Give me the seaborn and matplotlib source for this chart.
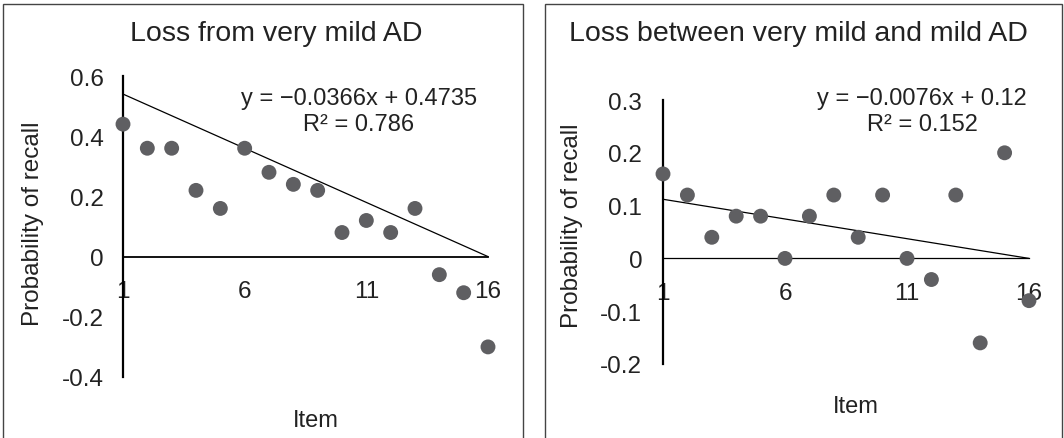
import matplotlib
matplotlib.use("Agg")
import matplotlib.pyplot as plt
from matplotlib.patches import Rectangle
import pandas as pd
import numpy as np
import seaborn as sns

# data
items = list(range(1, 17))
loss_very_mild = [0.44, 0.36, 0.36, 0.22, 0.16, 0.36, 0.28, 0.24,
                  0.22, 0.08, 0.12, 0.08, 0.16, -0.06, -0.12, -0.30]
loss_between = [0.16, 0.12, 0.04, 0.08, 0.08, 0.00, 0.08, 0.12,
                0.04, 0.12, 0.00, -0.04, 0.12, -0.16, 0.20, -0.08]

# trendline as drawn (value at item 1 and item 16)
trend_very_mild = [0.54, 0.0]
trend_between = [0.112, 0.0]

titles = ["Loss from very mild AD", "Loss between very mild and mild AD"]
equations = ["y = \u22120.0366x + 0.4735\nR\u00b2 = 0.786",
             "y = \u22120.0076x + 0.12\nR\u00b2 = 0.152"]
yticks_left = [0.6, 0.4, 0.2, 0, -0.2, -0.4]
yticks_right = [0.3, 0.2, 0.1, 0, -0.1, -0.2]
ytick_labels_left = ["0.6", "0.4", "0.2", "0", "-0.2", "-0.4"]
ytick_labels_right = ["0.3", "0.2", "0.1", "0", "-0.1", "-0.2"]
xticks = [1, 6, 11, 16]

sns.set_style("white")
plt.rcParams["font.family"] = ["Liberation Sans", "DejaVu Sans"]

W, H = 1064, 439
fig = plt.figure(figsize=(W / 100, H / 100), dpi=100)


def px_axes(x0, x1, y_top, y_bot):
    return fig.add_axes([x0 / W, (H - y_bot) / H, (x1 - x0) / W, (y_bot - y_top) / H])


dot_color = "#5f5f62"

panels = [
    dict(ax=px_axes(123, 488, 77, 378), y=loss_very_mild, trend=trend_very_mild,
         yt=yticks_left, ytl=ytick_labels_left, ylim=(-0.4, 0.6), ypad=14,
         zero_lw=1.3, title=titles[0], eq=equations[0], box=(3, 523),
         title_x=276, ylab=(33, 224), item_xy=(316, 421), eq_xy=(359, 112)),
    dict(ax=px_axes(663, 1029, 101, 365), y=loss_between, trend=trend_between,
         yt=yticks_right, ytl=ytick_labels_right, ylim=(-0.2, 0.3), ypad=15,
         zero_lw=0.9, title=titles[1], eq=equations[1], box=(545, 1062),
         title_x=798, ylab=(572, 226), item_xy=(856, 407), eq_xy=(922, 112)),
]

for p in panels:
    ax = p["ax"]
    df = pd.DataFrame({"item": items, "recall": p["y"]})
    sns.scatterplot(data=df, x="item", y="recall", ax=ax, color=dot_color,
                    s=115, edgecolor="none", clip_on=False, zorder=3)
    ax.plot([items[0], items[-1]], p["trend"], color="black", lw=0.9,
            clip_on=False, zorder=2)

    for s in ["top", "right"]:
        ax.spines[s].set_visible(False)
    ax.spines["bottom"].set_position(("data", 0))
    ax.spines["left"].set_linewidth(1.6)
    ax.spines["bottom"].set_linewidth(p["zero_lw"])
    ax.spines["left"].set_color("black")
    ax.spines["bottom"].set_color("black")

    ax.set_xlim(1, 16)
    ax.set_ylim(*p["ylim"])
    ax.set_xticks(xticks)
    ax.set_xticklabels([str(t) for t in xticks])
    ax.set_yticks(p["yt"])
    ax.set_yticklabels(p["ytl"])
    ax.tick_params(axis="both", length=0, labelsize=17.5, labelcolor="#222222")
    ax.tick_params(axis="y", pad=p["ypad"])
    ax.tick_params(axis="x", pad=17)
    ax.set_xlabel("")
    ax.set_ylabel("")
    ax.patch.set_alpha(0)

    # panel box
    bx0, bx1 = p["box"]
    fig.patches.append(Rectangle((bx0 / W, -0.01), (bx1 - bx0) / W, (H - 5) / H + 0.01,
                                 transform=fig.transFigure, fill=False,
                                 edgecolor="#444444", lw=1.0))

    fig.text(p["title_x"] / W, 1 - 34 / H, p["title"], ha="center", va="center",
             fontsize=20.5, color="#222222")
    fig.text(p["ylab"][0] / W, 1 - p["ylab"][1] / H, "Probability of recall",
             rotation=90, ha="center", va="center", fontsize=17.5, color="#222222")
    fig.text(p["item_xy"][0] / W, 1 - p["item_xy"][1] / H, "Item",
             ha="center", va="center", fontsize=17, color="#222222")
    fig.text(p["eq_xy"][0] / W, 1 - p["eq_xy"][1] / H, p["eq"], ha="center",
             va="center", fontsize=17, linespacing=1.2, color="#222222")

fig.savefig("out.png", dpi=100)
